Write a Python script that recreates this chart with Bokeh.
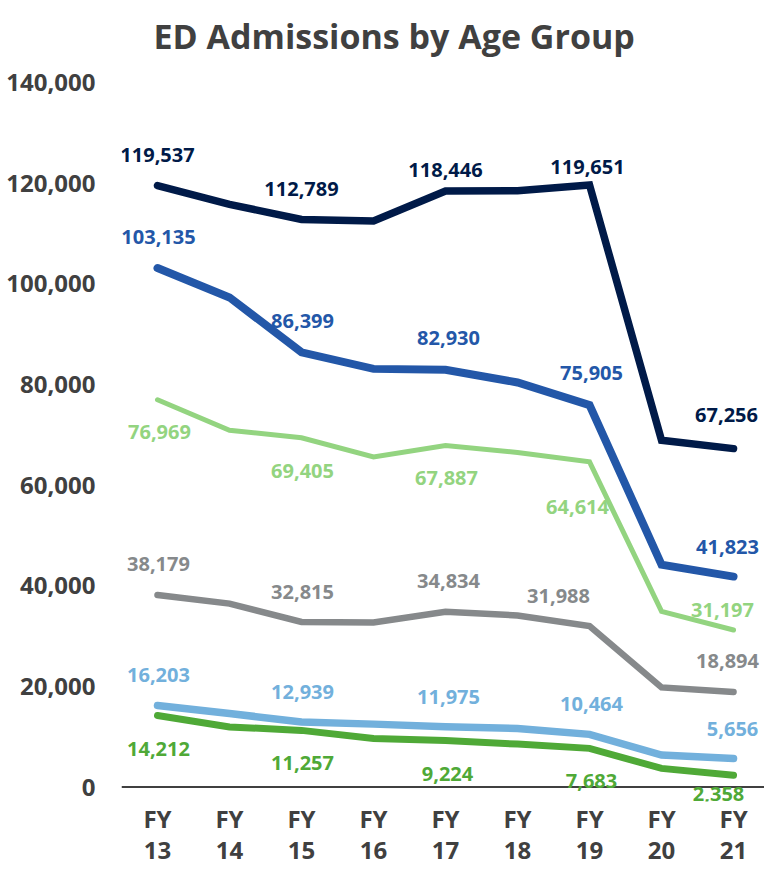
from bokeh.plotting import figure
from bokeh.models import Range1d, FixedTicker, NumeralTickFormatter, ColumnDataSource, LabelSet, LinearAxis, Span
from bokeh.core.properties import value
from bokeh.embed import file_html
from bokeh.resources import INLINE

# ---------------- data ----------------
fy_prefix = ["FY"] * 9
fy_numbers = ["13", "14", "15", "16", "17", "18", "19", "20", "21"]
navy_vals = [119537, 115800, 112789, 112500, 118446, 118500, 119651, 68900, 67256]
blue_vals = [103135, 97300, 86399, 83100, 82930, 80400, 75905, 44200, 41823]
lgreen_vals = [76969, 70900, 69405, 65600, 67887, 66500, 64614, 34900, 31197]
gray_vals = [38179, 36450, 32815, 32700, 34834, 34100, 31988, 19800, 18894]
lblue_vals = [16203, 14600, 12939, 12500, 11975, 11650, 10464, 6350, 5656]
green_vals = [14212, 11950, 11257, 9660, 9224, 8530, 7683, 3700, 2358]
labeled_idx = [0, 2, 4, 6, 8]
y_ticks = [0, 20000, 40000, 60000, 80000, 100000, 120000, 140000]

# ---------------- styles ----------------
TXT = "#404040"
FONT = "Open Sans"
series = [
    # values, colour, width, label dx, label dy (px, + = up)
    (navy_vals, "#001a48", 7.5, [0, 0, 0, -2, -7], [31, 30, 21, 18, 34]),
    (blue_vals, "#2357a8", 8, [1, 1, 3, 2, -6], [31, 31, 32, 32, 30]),
    (lgreen_vals, "#93d480", 5, [2, 1, 1, -12, -11], [-32, -33, -33, -45, 20]),
    (gray_vals, "#86898b", 6.5, [1, 1, 3, -31, -6], [31, 30, 31, 30, 31]),
    (lblue_vals, "#72b0dc", 7.5, [1, 1, 3, 2, -1], [30, 30, 30, 30, 30]),
    (green_vals, "#4fa937", 7, [1, 1, 2, 2, -15], [-33, -33, -33, -33, -19]),
]

x_idx = list(range(len(fy_numbers)))

p = figure(width=764, height=867, output_backend="svg", toolbar_location=None,
           x_range=Range1d(-0.5, 8.43), y_range=Range1d(-2877, 142000),
           min_border_left=121, min_border_right=0, min_border_top=71, min_border_bottom=66)

p.title.text = "ED Admissions by Age Group"
p.title.align = "left"
p.title.offset = 32
p.title.vertical_align = "top"
p.title.text_font = FONT
p.title.text_font_size = "34px"
p.title.text_font_style = "bold"
p.title.text_color = TXT
p.title.standoff = 24

p.outline_line_color = None
p.grid.grid_line_color = None
p.background_fill_color = "white"
p.border_fill_color = "white"

# y axis
p.yaxis.ticker = FixedTicker(ticks=y_ticks)
p.yaxis.formatter = NumeralTickFormatter(format="0,0")
p.yaxis.axis_line_color = None
p.yaxis.major_tick_line_color = None
p.yaxis.minor_tick_line_color = None
p.yaxis.major_tick_out = 0
p.yaxis.major_tick_in = 0
p.yaxis.major_label_standoff = 26
p.yaxis.major_label_text_font = FONT
p.yaxis.major_label_text_font_size = "24px"
p.yaxis.major_label_text_font_style = "bold"
p.yaxis.major_label_text_color = TXT

# x axes: "FY" row and year-number row
def style_x(ax, labels, standoff):
    ax.ticker = FixedTicker(ticks=x_idx)
    ax.major_label_overrides = {i: lab for i, lab in zip(x_idx, labels)}
    ax.axis_line_color = None
    ax.major_tick_line_color = None
    ax.minor_tick_line_color = None
    ax.major_tick_out = 0
    ax.major_tick_in = 0
    ax.major_label_standoff = standoff
    ax.major_label_text_font = FONT
    ax.major_label_text_font_size = "24px"
    ax.major_label_text_font_style = "bold"
    ax.major_label_text_color = TXT

style_x(p.xaxis[0], fy_prefix, 0)
ax2 = LinearAxis()
style_x(ax2, fy_numbers, 4)
p.add_layout(ax2, "below")

# baseline at zero
p.add_layout(Span(location=0, dimension="width", line_color=TXT, line_width=2))

for vals, color, lw, dxs, dys in series:
    p.line(x_idx, vals, line_color=color, line_width=lw, line_cap="round", line_join="miter")
    src = ColumnDataSource(dict(
        x=[x_idx[i] for i in labeled_idx],
        y=[vals[i] for i in labeled_idx],
        text=[f"{vals[i]:,}" for i in labeled_idx],
        dx=dxs, dy=dys,
    ))
    p.add_layout(LabelSet(x="x", y="y", text="text", source=src, x_offset="dx", y_offset="dy",
                          text_align="center", text_baseline="middle", text_color=color,
                          text_font=value(FONT), text_font_size="20px", text_font_style="bold"))

open("out.html", "w").write(file_html(p, INLINE))
